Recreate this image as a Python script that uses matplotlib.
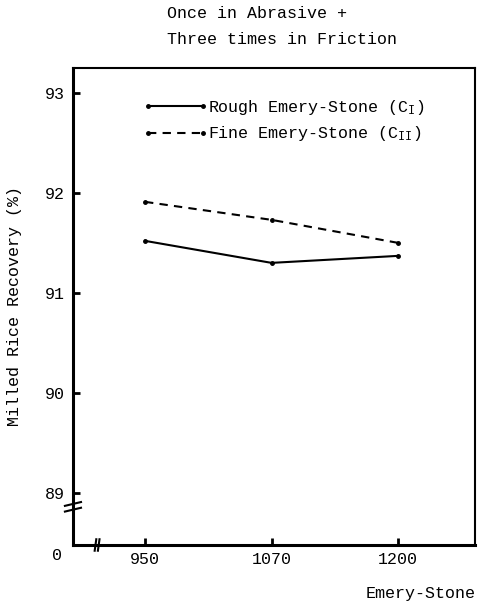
import matplotlib
matplotlib.use("Agg")
import matplotlib.pyplot as plt

# Data
categories = ["950", "1070", "1200"]
rough_values = [91.52, 91.30, 91.37]
fine_values = [91.91, 91.73, 91.50]
series_labels = [r"Rough Emery-Stone (C$_{\mathrm{I}}$)", r"Fine Emery-Stone (C$_{\mathrm{II}}$)"]
y_ticks = [89, 90, 91, 92, 93]
y_tick_labels = ["89", "90", "91", "92", "93"]
title_text = "Once in Abrasive +\nThree times in Friction"
x_label = "Emery-Stone"
y_label = "Milled Rice Recovery (%)"

plt.rcParams["font.family"] = ["Liberation Mono", "DejaVu Sans Mono"]
plt.rcParams["mathtext.fontset"] = "custom"
plt.rcParams["mathtext.rm"] = "Liberation Mono"
plt.rcParams["mathtext.it"] = "Liberation Mono"

fig = plt.figure(figsize=(4.8, 6.01), dpi=100)
ax = fig.add_axes([0.152, 0.0932, 0.838, 0.794])

x = list(range(len(categories)))
ax.plot(x, rough_values, color="black", lw=1.5, marker="o", ms=2.5,
        label=series_labels[0])
ax.plot(x, fine_values, color="black", lw=1.5, ls=(0, (4, 3)), marker="o", ms=2.5,
        label=series_labels[1])

ax.set_xlim(-0.57, 2.61)
ax.set_ylim(88.48, 93.25)
ax.set_xticks(x)
ax.set_xticklabels(categories, fontsize=12)
ax.set_yticks(y_ticks)
ax.set_yticklabels(y_tick_labels, fontsize=12)
ax.tick_params(axis="both", direction="in", length=5, width=2, color="black")
ax.tick_params(axis="y", pad=6)
ax.tick_params(axis="x", pad=5)
ax.tick_params(top=False, right=False)

for side in ["left", "bottom"]:
    ax.spines[side].set_linewidth(2.2)
for side in ["top", "right"]:
    ax.spines[side].set_linewidth(1.5)

# axis break marks
for dy in (-0.006, 0.006):
    ax.plot([-0.02, 0.02], [0.080 + dy - 0.004, 0.080 + dy + 0.004],
            transform=ax.transAxes, color="black", lw=1.5, clip_on=False)
for dx in (-0.004, 0.004):
    ax.plot([0.06 + dx - 0.002, 0.06 + dx + 0.002], [-0.012, 0.012],
            transform=ax.transAxes, color="black", lw=1.5, clip_on=False)

ax.text(-0.04, -0.022, "0", transform=ax.transAxes, ha="center", va="center",
        fontsize=12)

ax.set_xlabel(x_label, fontsize=12, loc="right", labelpad=14)
ax.set_ylabel(y_label, fontsize=12, labelpad=16)

fig.text(167 / 480, 1 - 6 / 601, title_text, ha="left", va="top", fontsize=12,
         linespacing=1.9)

ax.legend(loc="upper left", bbox_to_anchor=(0.165, 0.944), frameon=False,
          numpoints=2, handlelength=3.9, handletextpad=0.0, labelspacing=0.45,
          fontsize=12, borderpad=0.2, borderaxespad=0)

fig.savefig("out.png", dpi=100)
